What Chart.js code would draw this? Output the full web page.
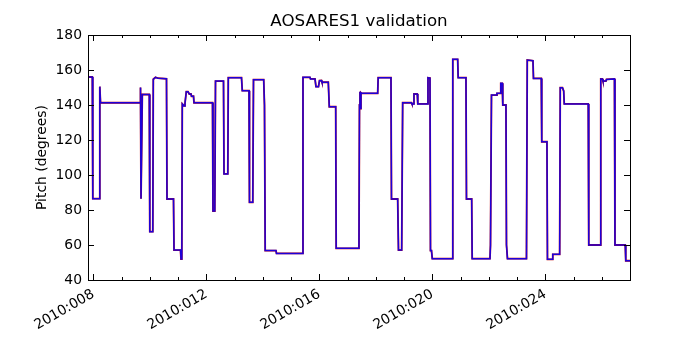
<!DOCTYPE html>
<html>
<head>
<meta charset="utf-8">
<script src="https://cdn.jsdelivr.net/npm/chart.js@4"></script>
<style>
  body { margin: 0; background: #fff; }
  #wrap { width: 700px; height: 350px; }
</style>
</head>
<body>
<div id="wrap"><canvas id="pitchChart" width="700" height="350"></canvas></div>
<script>
// day of year 2010 (fractional) and pitch in degrees
const pitchDays = [
  7.812, 7.965, 7.982, 8.219, 8.230, 8.255, 9.653, 9.671, 9.689, 9.717,
  9.735, 9.982, 10.000, 10.106, 10.124, 10.202, 10.290, 10.591, 10.609, 10.839,
  10.857, 11.087, 11.104, 11.133, 11.150, 11.211, 11.246, 11.292, 11.352, 11.398,
  11.458, 11.476, 11.547, 11.565, 12.220, 12.237, 12.301, 12.326, 12.609, 12.627,
  12.761, 12.779, 13.246, 13.274, 13.512, 13.529, 13.646, 13.671, 14.032, 14.060,
  14.085, 14.467, 14.485, 15.398, 15.423, 15.671, 15.689, 15.848, 15.883, 15.972,
  16.007, 16.078, 16.096, 16.319, 16.354, 16.581, 16.598, 17.405, 17.423, 17.441,
  17.459, 17.476, 17.494, 18.067, 18.085, 18.538, 18.556, 18.775, 18.804, 18.917,
  18.952, 19.264, 19.282, 19.335, 19.352, 19.469, 19.487, 19.823, 19.848, 19.919,
  19.937, 19.972, 20.000, 20.708, 20.726, 20.899, 20.917, 21.193, 21.211, 21.395,
  21.413, 22.043, 22.061, 22.096, 22.273, 22.291, 22.407, 22.425, 22.478, 22.496,
  22.609, 22.627, 22.662, 23.335, 23.363, 23.565, 23.583, 23.859, 23.876, 24.060,
  24.078, 24.248, 24.266, 24.510, 24.531, 24.609, 24.652, 24.673, 25.522, 25.540,
  25.947, 25.965, 26.025, 26.043, 26.149, 26.167, 26.450, 26.468, 26.832, 26.850,
  27.000
];
const pitchValues = [
  156, 156, 86.5, 86.5, 150.5, 141.3, 141.3, 150, 86.5, 86.5,
  146, 146, 67.6, 67.6, 154.7, 155.8, 155.3, 155, 86.3, 86.3,
  57.1, 57.1, 52, 52, 140.6, 139.5, 141, 147.6, 147.6, 146.3,
  146.3, 145, 145, 141.3, 141.3, 79.4, 79.4, 153.7, 153.7, 100.6,
  100.6, 155.6, 155.6, 148.2, 148.2, 84.4, 84.4, 154.5, 154.5, 140,
  56.8, 56.8, 55.2, 55.2, 155.8, 155.8, 154.9, 154.9, 150.5, 150.5,
  153.9, 154, 153, 153, 139, 139, 58.1, 58.1, 140, 147.6,
  138, 147, 146.7, 146.7, 155.6, 155.6, 86.3, 86.3, 57.1, 57.1,
  141.3, 141.3, 140.6, 140.6, 146.3, 146.3, 140.6, 140.6, 155.6, 155.4,
  56.8, 56.8, 52.2, 52.2, 166.1, 166.1, 155.6, 155.6, 86.3, 86.3,
  52.2, 52.2, 60, 145.7, 145.7, 146.7, 146.7, 152.4, 152.4, 140,
  140, 60, 52.2, 52.2, 165.7, 165.3, 155.2, 155.2, 119, 119,
  51.8, 51.8, 54.7, 54.7, 149.9, 149.9, 148, 140.6, 140.6, 60,
  60, 154.9, 154.9, 153.7, 153.7, 154.6, 154.9, 60, 60, 51,
  51
];

const xMajorDays = [8, 12, 16, 20, 24];
const xMinorDays = [9, 10, 11, 13, 14, 15, 17, 18, 19, 21, 22, 23, 25, 26, 27];
const yTicks = [40, 60, 80, 100, 120, 140, 160, 180];

const FONT = "'DejaVu Sans', sans-serif";
const points = pitchDays.map((d, i) => ({ x: d, y: pitchValues[i] }));

// matplotlib-like frame, inward ticks, title and y label
const framePlugin = {
  id: "frame",
  afterDraw(chart) {
    const { ctx, chartArea: a, scales } = chart;
    const xs = scales.x, ys = scales.y;
    ctx.save();
    ctx.strokeStyle = "#000";
    ctx.lineWidth = 1;
    ctx.strokeRect(Math.round(a.left) + 0.5, Math.round(a.top) + 0.5,
      Math.round(a.right - a.left), Math.round(a.bottom - a.top));

    const tick = (x1, y1, x2, y2) => {
      ctx.beginPath(); ctx.moveTo(x1, y1); ctx.lineTo(x2, y2); ctx.stroke();
    };
    xMajorDays.forEach(d => {
      const px = Math.round(xs.getPixelForValue(d)) + 0.5;
      tick(px, a.bottom, px, a.bottom - 6);
      tick(px, a.top, px, a.top + 6);
    });
    xMinorDays.forEach(d => {
      const px = Math.round(xs.getPixelForValue(d)) + 0.5;
      tick(px, a.bottom, px, a.bottom - 3);
      tick(px, a.top, px, a.top + 3);
    });
    yTicks.forEach(v => {
      const py = Math.round(ys.getPixelForValue(v)) + 0.5;
      tick(a.left, py, a.left + 6, py);
      tick(a.right, py, a.right - 6, py);
    });

    ctx.fillStyle = "#000";
    ctx.textAlign = "center";
    ctx.textBaseline = "middle";
    ctx.font = "16.7px " + FONT;
    ctx.fillText("AOSARES1 validation", (a.left + a.right) / 2, 22);

    ctx.translate(42, (a.top + a.bottom) / 2);
    ctx.rotate(-Math.PI / 2);
    ctx.font = "13.9px " + FONT;
    ctx.fillText("Pitch (degrees)", 0, 0);
    ctx.restore();
  }
};

new Chart(document.getElementById("pitchChart"), {
  type: "line",
  data: {
    datasets: [
      { label: "telemetry", data: points, borderColor: "rgba(0,0,255,0.85)", borderWidth: 1.5, pointRadius: 0, order: 0 },
      { label: "model", data: points, borderColor: "#c00000", borderWidth: 1.8, pointRadius: 0, order: 1 }
    ]
  },
  options: {
    responsive: false,
    animation: false,
    layout: { padding: { top: 35, right: 70, left: 0, bottom: 0 } },
    plugins: { legend: { display: false }, title: { display: false }, tooltip: { enabled: false } },
    scales: {
      x: {
        type: "linear",
        min: 7.812,
        max: 27.0,
        grid: { display: false, drawTicks: false },
        border: { display: false },
        afterBuildTicks: s => { s.ticks = xMajorDays.map(v => ({ value: v })); },
        afterFit: s => { s.height = 70; },
        ticks: {
          color: "#000",
          font: { family: FONT, size: 13.9 },
          minRotation: 30,
          maxRotation: 30,
          padding: 6,
          callback: v => "2010:" + String(v).padStart(3, "0")
        }
      },
      y: {
        min: 40,
        max: 180,
        grid: { display: false, drawTicks: false },
        border: { display: false },
        afterBuildTicks: s => { s.ticks = yTicks.map(v => ({ value: v })); },
        afterFit: s => { s.width = 88; },
        ticks: { color: "#000", font: { family: FONT, size: 13.9 }, padding: 6 }
      }
    }
  },
  plugins: [framePlugin]
});
</script>
</body>
</html>
